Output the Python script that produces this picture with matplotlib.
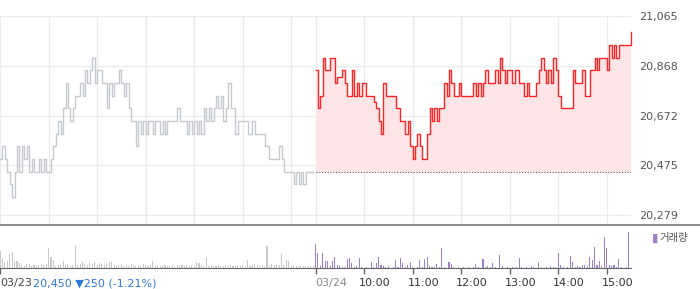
import numpy as np
import matplotlib
import matplotlib.pyplot as plt
import matplotlib.transforms as mtransforms

matplotlib.use('Agg')

# 3분 간격 가격 (전일 03/23, 당일 03/24)
prev_prices = [
    20500, 20550, 20500, 20450, 20400, 20350, 20450, 20550, 20450, 20550,
    20500, 20550, 20450, 20500, 20450, 20450, 20500, 20450, 20500, 20450,
    20450, 20500, 20550, 20600, 20650, 20600, 20700, 20800, 20700, 20650,
    20700, 20750, 20750, 20800, 20750, 20850, 20800, 20850, 20900, 20800,
    20850, 20850, 20800, 20800, 20700, 20800, 20750, 20800, 20800, 20850,
    20800, 20750, 20800, 20700, 20650, 20650, 20550, 20650, 20600, 20650,
    20600, 20650, 20650, 20600, 20650, 20650, 20600, 20650, 20600, 20650,
    20650, 20650, 20650, 20700, 20650, 20650, 20650, 20600, 20650, 20600,
    20650, 20600, 20650, 20600, 20700, 20650, 20700, 20650, 20700, 20750,
    20700, 20750, 20650, 20700, 20800, 20700, 20700, 20600, 20650, 20650,
    20650, 20650, 20600, 20600, 20650, 20600, 20600, 20600, 20600, 20550,
    20550, 20500, 20500, 20500, 20500, 20550, 20500, 20450, 20450, 20450,
    20450, 20400, 20450, 20400, 20450, 20400, 20450, 20450, 20450, 20450,
]
cur_prices = [
    20850, 20700, 20750, 20900, 20850, 20850, 20900, 20900, 20800, 20825,
    20825, 20850, 20800, 20750, 20750, 20850, 20750, 20800, 20750, 20800,
    20800, 20750, 20750, 20750, 20725, 20700, 20650, 20600, 20800, 20750,
    20750, 20750, 20750, 20700, 20700, 20650, 20650, 20600, 20650, 20550,
    20500, 20550, 20600, 20550, 20500, 20500, 20600, 20700, 20650, 20700,
    20650, 20700, 20700, 20800, 20750, 20850, 20800, 20750, 20750, 20800,
    20750, 20750, 20750, 20750, 20750, 20800, 20750, 20800, 20750, 20800,
    20850, 20800, 20800, 20800, 20850, 20800, 20900, 20850, 20800, 20850,
    20850, 20800, 20850, 20850, 20800, 20800, 20750, 20800, 20750, 20750,
    20750, 20800, 20850, 20900, 20850, 20800, 20850, 20800, 20900, 20850,
    20750, 20700, 20700, 20700, 20700, 20700, 20850, 20800, 20800, 20800,
    20850, 20750, 20750, 20850, 20850, 20900, 20850, 20900, 20900, 20900,
    20850, 20950, 20900, 20950, 20900, 20950, 20950, 20950, 20950, 20950,
    21000,
]

# 거래량 (천주)
prev_volume = [
    17, 10, 6, 7, 14, 16, 7, 7, 5, 3, 2, 4, 4, 2, 3, 2, 3, 4, 3, 4,
    20, 11, 8, 2, 3, 3, 7, 3, 4, 2, 3, 22, 3, 4, 6, 4, 3, 5, 4, 6,
    3, 5, 4, 3, 5, 6, 6, 3, 2, 3, 4, 2, 3, 2, 4, 3, 2, 3, 2, 4,
    3, 2, 3, 7, 2, 3, 2, 2, 3, 2, 2, 3, 2, 3, 2, 3, 2, 3, 2, 3,
    2, 6, 5, 3, 2, 11, 2, 3, 2, 2, 3, 2, 2, 3, 2, 3, 2, 2, 3, 2,
    3, 2, 8, 2, 3, 4, 3, 2, 3, 2, 22, 3, 4, 3, 3, 3, 14, 3, 8, 7,
    2, 3, 2, 2, 2, 2, 2, 2, 2, 2,
]
cur_volume = [
    24, 15, 2, 15, 7, 7, 2, 7, 11, 3, 2, 1, 1, 9, 10, 5, 1, 2, 10, 1,
    0, 1, 0, 6, 1, 5, 11, 3, 2, 1, 2, 0, 1, 8, 1, 10, 5, 1, 3, 6,
    1, 0, 1, 8, 1, 9, 11, 2, 1, 1, 4, 1, 20, 1, 0, 6, 4, 1, 0, 1,
    0, 1, 0, 1, 0, 1, 4, 1, 0, 9, 1, 2, 1, 5, 1, 0, 13, 2, 0, 1,
    0, 1, 0, 1, 10, 1, 0, 1, 0, 2, 1, 0, 6, 1, 0, 1, 0, 2, 1, 1,
    15, 3, 1, 0, 1, 12, 6, 1, 2, 1, 3, 3, 2, 11, 8, 21, 3, 7, 2, 31,
    20, 3, 2, 3, 1, 9, 1, 0, 1, 36,
]

prev_close = 20450
y_ticks = [20279, 20475, 20672, 20868, 21065]
day_labels = ['03/23', '03/24']
hour_labels = ['10:00', '11:00', '12:00', '13:00', '14:00', '15:00']
summary = '20,450 ▼250 (-1.21%)'

slots_per_hour = 20  # 3분 간격
n_day = len(prev_prices)
prev_x = np.arange(n_day)
cur_x = np.arange(n_day, n_day + len(cur_prices))

W, H = 700, 289
fig = plt.figure(figsize=(W / 100, H / 100), dpi=100)
ax = fig.add_axes([0, 1 - 225 / H, 631 / W, 209 / H])
axv = fig.add_axes([0, 1 - 268 / H, 631 / W, 42 / H])

xmax = n_day + len(cur_prices) - 1

# 가격 차트
grid_x = list(range(0, n_day, slots_per_hour)) + list(range(n_day, xmax, slots_per_hour))
for gx in grid_x:
    ax.axvline(gx, color='#ebebeb', lw=1, zorder=0)
for gy in y_ticks:
    ax.axhline(gy, color='#ebebeb', lw=1, zorder=0)

ax.plot(prev_x, prev_prices, color='#c6c9ce', lw=1, drawstyle='steps-post', zorder=3)
ax.fill_between(cur_x, cur_prices, prev_close, step='post', color='#fde5e7', lw=0, zorder=1)
ax.plot(cur_x, cur_prices, color='#ff2424', lw=1, drawstyle='steps-post', zorder=3,
        clip_on=False)
ax.plot([n_day, xmax], [prev_close, prev_close], color='#555555', lw=0.8,
        linestyle=(0, (1, 1.5)), zorder=2)

ax.set_xlim(0, xmax)
ax.set_ylim(20240, 21065)
ax.set_xticks([])
ax.yaxis.tick_right()
ax.set_yticks(y_ticks)
ax.set_yticklabels([f'{v:,}' for v in y_ticks])
ax.tick_params(axis='y', length=0, pad=6, labelsize=8, labelcolor='#555555')
for s in ax.spines.values():
    s.set_visible(False)

# 거래량
axv.bar(prev_x, prev_volume, width=0.45, color='#c8c8c8', lw=0)
axv.bar(cur_x[:len(cur_volume)], cur_volume, width=0.45, color='#9b7fcc', lw=0)
axv.set_xlim(0, xmax)
axv.set_ylim(0, 42)
axv.set_yticks([])
tick_x = [0, n_day] + list(range(n_day + slots_per_hour, xmax, slots_per_hour))
axv.set_xticks(tick_x)
axv.set_xticklabels([])
axv.tick_params(axis='x', length=4, width=1, color='#666666', direction='out')
for name, s in axv.spines.items():
    s.set_visible(name == 'bottom')
axv.spines['bottom'].set_color('#666666')

# 구분선
fig.add_artist(plt.Line2D([0, 1], [1 - 225 / H, 1 - 225 / H], color='#777777', lw=1.2))

# 범례
fig.text(652 / W, 1 - 238 / H, '▮', color='#9b7fcc', fontsize=8.5, va='center', ha='left')
fig.text(659 / W, 1 - 238 / H, '거래량', color='#555555', fontsize=7.5, va='center', ha='left',
         family=['Noto Sans CJK KR', 'DejaVu Sans'])

# x축 라벨
ty = 1 - 283 / H
fig.text(0, ty, day_labels[0], color='#444444', fontsize=8, va='center', ha='left')
fig.text(33 / W, ty, summary, color='#2f77d8', fontsize=8, va='center', ha='left')
lab_tf = mtransforms.blended_transform_factory(axv.transData, fig.transFigure)
fig.text(n_day, ty, day_labels[1], color='#888888', fontsize=8, va='center', ha='left',
         transform=lab_tf)
off = mtransforms.ScaledTranslation(-5 / 100, 0, fig.dpi_scale_trans)
for i, lab in enumerate(hour_labels):
    fig.text(n_day + slots_per_hour * (i + 1), ty, lab, color='#333333', fontsize=8,
             va='center', ha='left', transform=lab_tf + off)

fig.savefig('out.png', dpi=100)
plt.close(fig)
